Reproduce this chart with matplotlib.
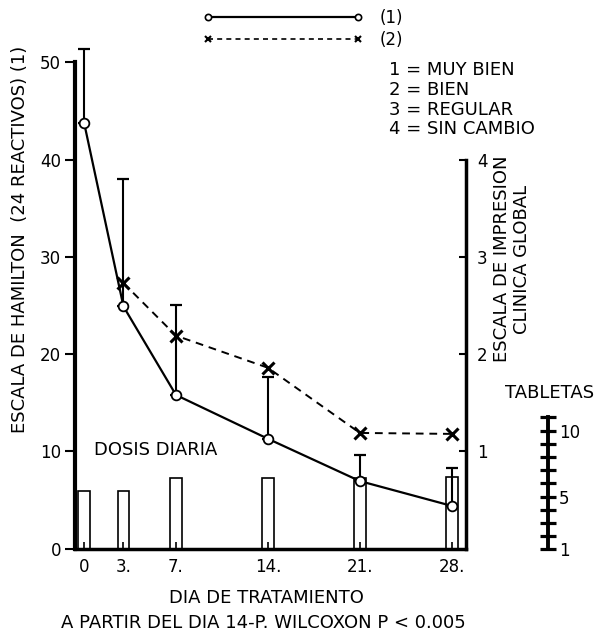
import matplotlib.pyplot as plt
from matplotlib.lines import Line2D

# data
dias = [0, 3, 7, 14, 21, 28]
dias_etiquetas = ['0', '3.', '7.', '14.', '21.', '28.']
hamilton = [43.8, 24.9, 15.8, 11.3, 6.95, 4.4]
hamilton_sup = [51.4, 38.0, 25.0, 17.6, 9.6, 8.3]
dias_global = [3, 7, 14, 21, 28]
impresion_global = [2.73, 2.19, 1.86, 1.19, 1.18]
dosis = [5.9, 5.9, 7.25, 7.25, 7.3, 7.4]
tabletas_ticks = list(range(1, 12))
tabletas_labels = [1, 5, 10]
escala = ['1 = MUY BIEN', '2 = BIEN', '3 = REGULAR', '4 = SIN CAMBIO']

plt.rcParams['font.family'] = 'DejaVu Sans'
W, H = 611, 632
fig = plt.figure(figsize=(W / 100, H / 100), dpi=100)


def px(x0, y0, x1, y1):
    # pixel box -> figure fraction rect
    return [x0 / W, 1 - y1 / H, (x1 - x0) / W, (y1 - y0) / H]


fs = 12    # tick labels
fst = 13   # other text

ax = fig.add_axes(px(75, 33.1, 465.7, 548.7))
ax.set_xlim(-0.69, 29.06)
ax.set_ylim(0, 53)
ax2 = ax.twinx()
ax2.set_ylim(0, 5.3)

# daily dose bars
ax.bar(dias, dosis, width=0.9, facecolor='white', edgecolor='k', lw=1.2, zorder=1)

# Hamilton scale with upper error bars
err_up = [s - m for s, m in zip(hamilton_sup, hamilton)]
ax.errorbar(dias, hamilton, yerr=[[0] * len(dias), err_up], fmt='none',
            ecolor='k', elinewidth=1.5, capsize=4, capthick=1.6, zorder=2)
ax.plot(dias, hamilton, 'k-', lw=1.6, marker='o', ms=7, mfc='white',
        mec='k', mew=1.3, zorder=4)

# global clinical impression
ax2.plot(dias_global, impresion_global, color='k', ls='--', dashes=(4, 3),
         lw=1.4, marker='x', ms=9, mew=2.2, zorder=4)

for s in ['top', 'right']:
    ax.spines[s].set_visible(False)
ax.spines['left'].set_bounds(0, 50)
ax.spines['left'].set_linewidth(3)
ax.spines['bottom'].set_linewidth(2.5)
for s in ['top', 'left', 'bottom']:
    ax2.spines[s].set_visible(False)
ax2.spines['right'].set_bounds(0, 4)
ax2.spines['right'].set_linewidth(2.5)

ax.set_xticks(dias, dias_etiquetas)
ax.set_yticks(range(0, 51, 10))
ax.tick_params(axis='x', direction='in', length=5, width=1.2, pad=7, labelsize=fs)
ax.tick_params(axis='y', direction='out', length=7, width=1.5, pad=3, labelsize=fs)
ax2.set_yticks([1, 2, 3, 4])
ax2.tick_params(axis='y', direction='in', length=5, width=1.5, pad=8, labelsize=fs)

ax.text(0.75, 10.1, 'DOSIS DIARIA', va='center', ha='left', fontsize=fst)

# legend
h1 = Line2D([], [], color='k', lw=1.6, marker='o', ms=4.5, mfc='white', mew=1.2)
h2 = Line2D([], [], color='k', lw=1.2, ls='--', dashes=(3, 2.5), marker='x', ms=5, mew=1.5)
fig.legend([h1, h2], ['(1)', '(2)'], loc='upper left',
           bbox_to_anchor=(203 / W, 1 - 9 / H), frameon=False, numpoints=2,
           handlelength=9.6, handletextpad=1.0, labelspacing=0.25,
           borderpad=0, borderaxespad=0, fontsize=fs)

fig.text(389 / W, 1 - 61 / H, '\n'.join(escala), ha='left', va='top',
         fontsize=fst, linespacing=1.13)

# axis titles
fig.text(20 / W, 1 - 239 / H, 'ESCALA DE HAMILTON  (24 REACTIVOS) (1)',
         rotation=90, ha='center', va='center', fontsize=fst)
fig.text(512 / W, 1 - 259 / H, 'ESCALA DE IMPRESION\nCLINICA GLOBAL',
         rotation=90, ha='center', va='center', fontsize=fst,
         multialignment='center', linespacing=1.1)
fig.text(266 / W, 1 - 598 / H, 'DIA DE TRATAMIENTO', ha='center',
         va='center', fontsize=fst)
fig.text(263 / W, 1 - 623 / H, 'A PARTIR DEL DIA 14-P. WILCOXON P < 0.005',
         ha='center', va='center', fontsize=fst)

# tablet scale
ax_t = fig.add_axes(px(528.3, 417.3, 548.3, 549.3))
ax_t.patch.set_visible(False)
for s in ['top', 'left', 'bottom']:
    ax_t.spines[s].set_visible(False)
ax_t.spines['right'].set_linewidth(2.8)
ax_t.set_ylim(1, 11)
ax_t.set_xticks([])
ax_t.yaxis.tick_right()
ax_t.set_yticks(tabletas_labels)
ax_t.set_yticks(tabletas_ticks, minor=True)
ax_t.tick_params(axis='y', which='both', direction='inout', length=11.5, width=2.3,
                 pad=2, labelsize=fs)
fig.text(550 / W, 1 - 392.7 / H, 'TABLETAS', ha='center', va='center', fontsize=fst)

fig.savefig('out.png', dpi=100)
